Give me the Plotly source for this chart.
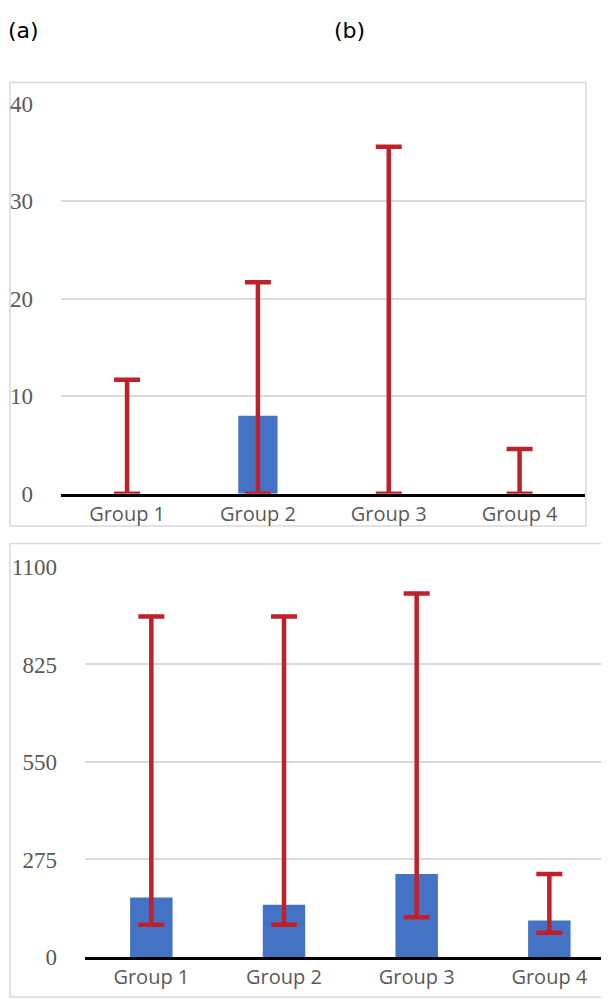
import plotly.graph_objects as go

categories = ["Group 1", "Group 2", "Group 3", "Group 4"]

# Panel (a)
a_values = [0, 8, 0, 0]
a_upper = [11.7, 21.7, 35.6, 4.6]
a_lower = [0, 0, 0, 0]
a_ticks = [0, 10, 20, 30, 40]

# Panel (b)
b_values = [168, 147, 234, 103]
b_upper = [960, 960, 1025, 234]
b_lower = [91, 91, 112, 68]
b_ticks = [0, 275, 550, 825, 1100]

W, H = 609, 1000
OFF = 8  # page body margin
BAR = "#4472c4"
ERR = "#c0202a"
GRID = "#d9d9d9"
TXT = "#595959"


def px(x):
    return (x - OFF) / W


def py(y):
    return 1 - (y - OFF) / H


fig = go.Figure()

fig.add_trace(go.Bar(
    x=categories, y=a_values, width=0.3,
    marker=dict(color=BAR, line=dict(width=0)),
    error_y=dict(type="data", symmetric=False,
                 array=[u - v for u, v in zip(a_upper, a_values)],
                 arrayminus=[v - l for v, l in zip(a_values, a_lower)],
                 color=ERR, thickness=4.5, width=13),
    xaxis="x", yaxis="y", showlegend=False))

fig.add_trace(go.Bar(
    x=categories, y=b_values, width=0.32,
    marker=dict(color=BAR, line=dict(width=0)),
    error_y=dict(type="data", symmetric=False,
                 array=[u - v for u, v in zip(b_upper, b_values)],
                 arrayminus=[v - l for v, l in zip(b_values, b_lower)],
                 color=ERR, thickness=4.5, width=13),
    xaxis="x2", yaxis="y2", showlegend=False))

yfont = dict(family="Liberation Serif", size=23, color=TXT)
xfont = dict(family="Open Sans", size=20, color=TXT)
lblfont = dict(family="DejaVu Sans", size=22, color="black")

fig.update_layout(
    width=W, height=H,
    margin=dict(l=0, r=0, t=0, b=0),
    paper_bgcolor="white", plot_bgcolor="white",
    xaxis=dict(domain=[px(61), px(585)], range=[-0.505, 3.5],
               showline=True, linecolor="black", linewidth=3,
               showgrid=False, tickfont=xfont, ticks="", anchor="y"),
    yaxis=dict(domain=[py(494), py(94)], range=[0, 40],
               tickvals=a_ticks, showgrid=True, gridcolor=GRID, gridwidth=2,
               zeroline=False, tickfont=yfont, ticks="",
               ticklabelstandoff=27, anchor="x"),
    xaxis2=dict(domain=[px(85), 1], range=[-0.5, 3.51],
                showline=True, linecolor="black", linewidth=3,
                showgrid=False, tickfont=xfont, ticks="", anchor="y2"),
    yaxis2=dict(domain=[py(969), py(569)], range=[0, 1100],
                tickvals=b_ticks, showgrid=True, gridcolor=GRID, gridwidth=2,
                zeroline=False, tickfont=yfont, ticks="",
                ticklabelstandoff=27, anchor="x2"),
    shapes=[
        dict(type="rect", xref="paper", yref="paper",
             x0=px(10), x1=px(586), y0=py(527), y1=py(72),
             line=dict(color=GRID, width=1.5), layer="below"),
        dict(type="rect", xref="paper", yref="paper",
             x0=px(10), x1=px(620), y0=py(1010), y1=py(545),
             line=dict(color=GRID, width=1.5), layer="below"),
    ],
    annotations=[
        dict(text="(a)", xref="paper", yref="paper", x=px(6), y=py(4),
             xanchor="left", yanchor="top", showarrow=False, font=lblfont),
        dict(text="(b)", xref="paper", yref="paper", x=px(332), y=py(4),
             xanchor="left", yanchor="top", showarrow=False, font=lblfont),
    ],
)

fig.write_html("out.html")
